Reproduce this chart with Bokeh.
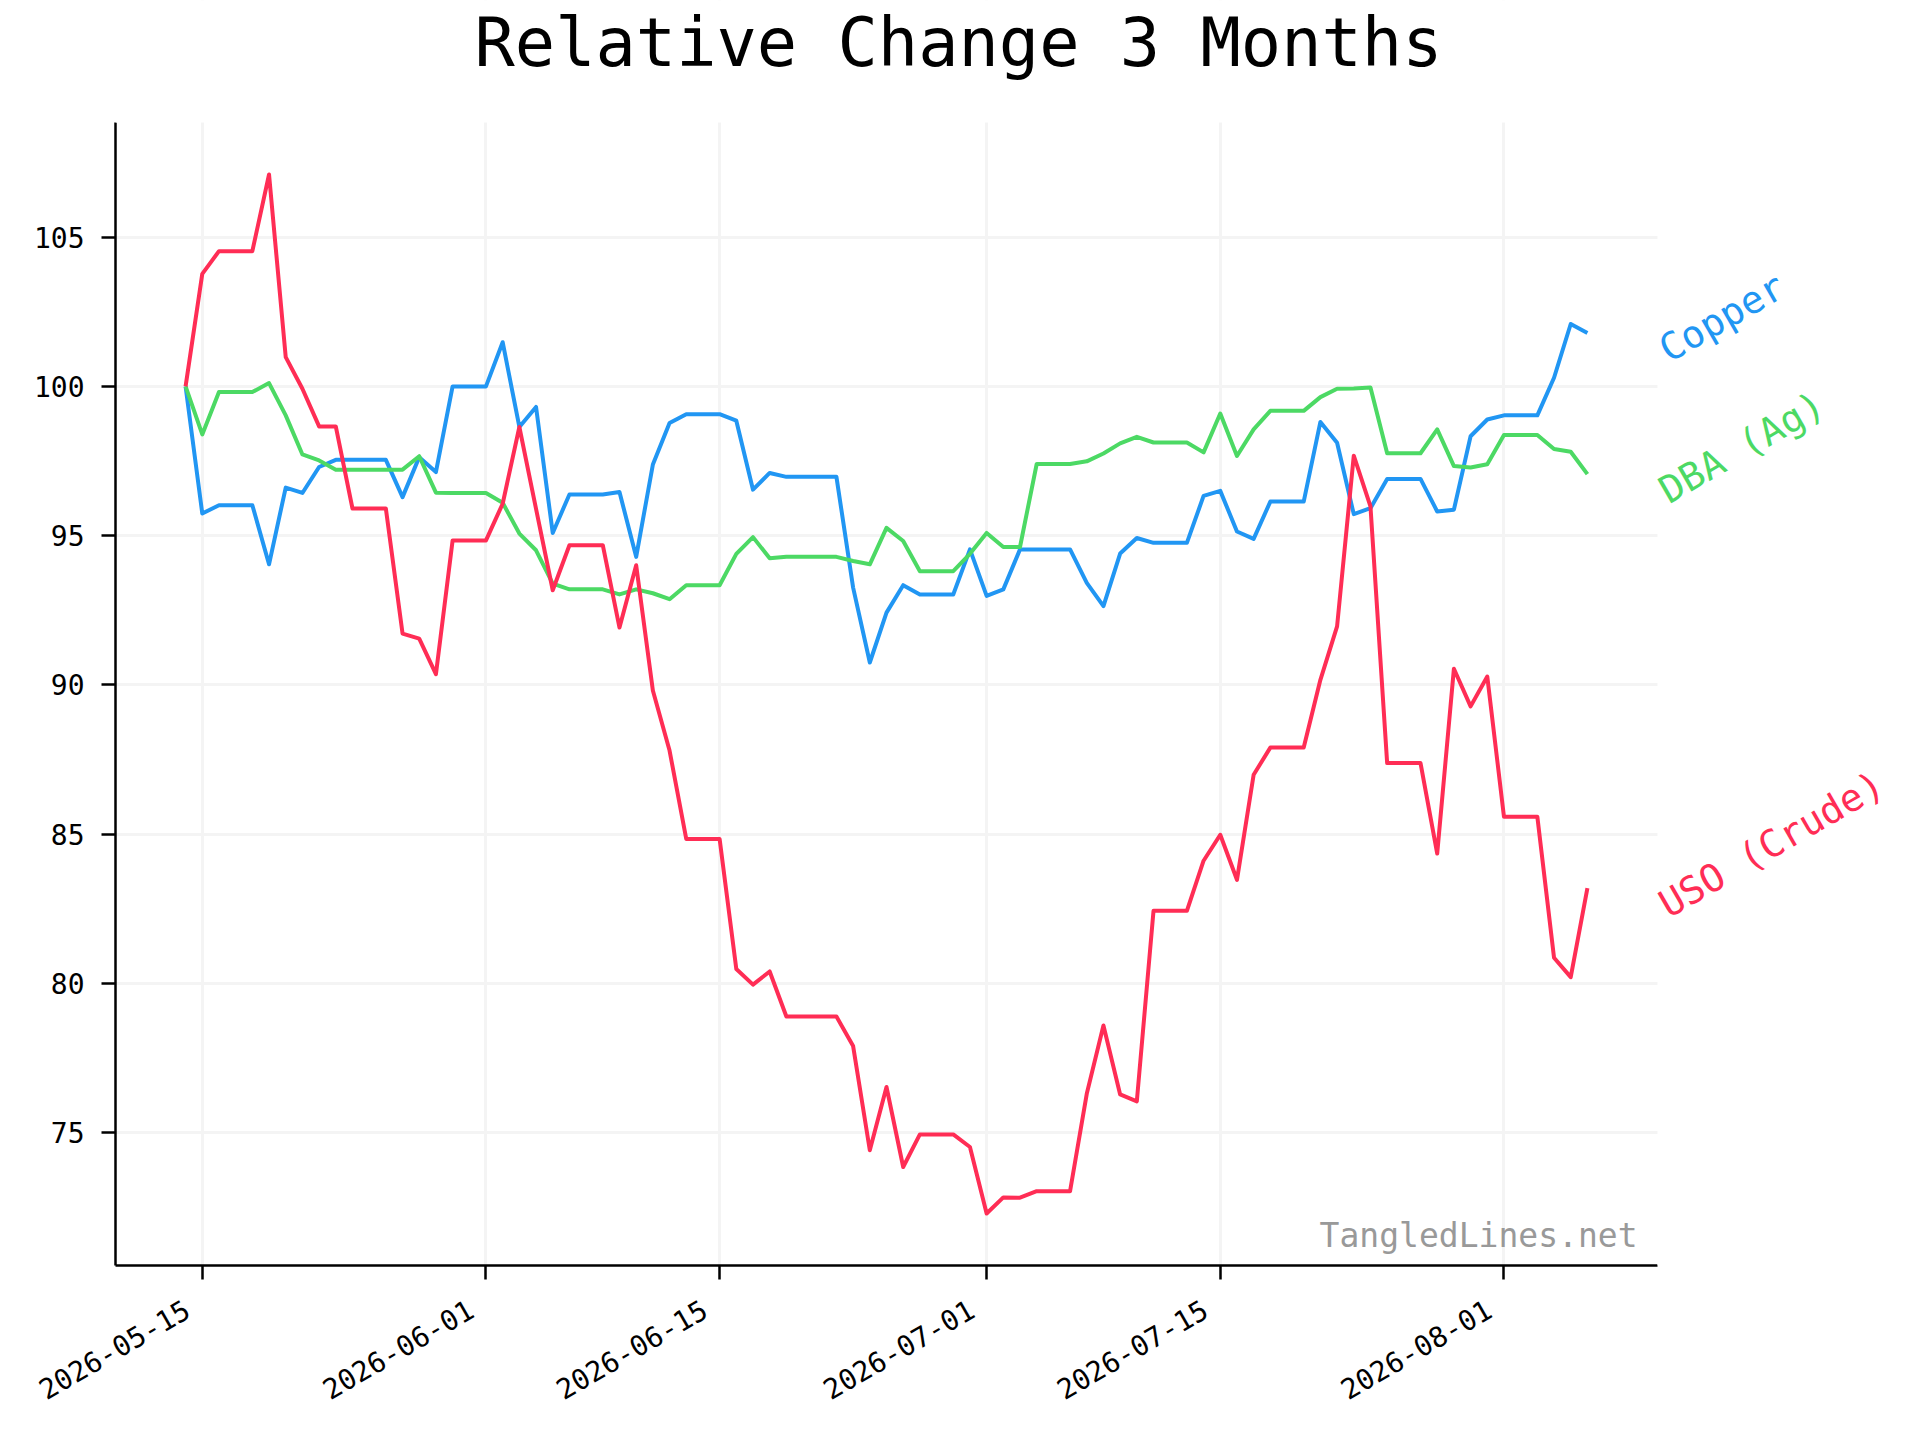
import pandas as pd
from math import pi
from bokeh.plotting import figure
from bokeh.models import (Range1d, DaysTicker, DatetimeTickFormatter, Label,
                          SingleIntervalTicker, BoxAnnotation)
from bokeh.embed import file_html
from bokeh.resources import INLINE

# ---------------- data ----------------
start_date = "2026-05-14"
n_days = 85
dates = pd.date_range(start_date, periods=n_days, freq="D")

copper = [100.00, 95.74, 96.02, 96.02, 96.02, 94.04, 96.61, 96.43, 97.30, 97.54,
          97.54, 97.54, 97.54, 96.29, 97.63, 97.13, 100.00, 100.00, 100.00, 101.48,
          98.64, 99.31, 95.09, 96.38, 96.38, 96.38, 96.46, 94.29, 97.38, 98.77,
          99.07, 99.07, 99.07, 98.85, 96.54, 97.10, 96.97, 96.97, 96.97, 96.97,
          93.26, 90.75, 92.42, 93.34, 93.03, 93.03, 93.03, 94.54, 92.98, 93.20,
          94.54, 94.54, 94.54, 94.54, 93.42, 92.64, 94.40, 94.92, 94.76, 94.76,
          94.76, 96.33, 96.50, 95.14, 94.89, 96.14, 96.14, 96.14, 98.81, 98.11,
          95.72, 95.92, 96.90, 96.90, 96.90, 95.81, 95.87, 98.33, 98.89, 99.03,
          99.03, 99.03, 100.29, 102.09, 101.79]

dba = [100.00, 98.39, 99.81, 99.81, 99.81, 100.11, 99.03, 97.72, 97.52, 97.21,
       97.21, 97.21, 97.21, 97.21, 97.66, 96.44, 96.43, 96.43, 96.43, 96.10,
       95.07, 94.51, 93.39, 93.20, 93.20, 93.20, 93.03, 93.20, 93.07, 92.87,
       93.34, 93.34, 93.34, 94.39, 94.95, 94.24, 94.29, 94.29, 94.29, 94.29,
       94.15, 94.04, 95.26, 94.82, 93.81, 93.81, 93.81, 94.39, 95.09, 94.62,
       94.62, 97.40, 97.40, 97.40, 97.49, 97.75, 98.09, 98.31, 98.12, 98.12,
       98.12, 97.79, 99.09, 97.67, 98.56, 99.18, 99.18, 99.18, 99.64, 99.92,
       99.93, 99.96, 97.76, 97.76, 97.76, 98.56, 97.33, 97.28, 97.39, 98.37,
       98.37, 98.37, 97.90, 97.81, 97.06]

uso = [100.00, 103.77, 104.53, 104.53, 104.53, 107.10, 100.98, 99.92, 98.66, 98.66,
       95.91, 95.91, 95.91, 91.72, 91.55, 90.36, 94.84, 94.84, 94.84, 96.07,
       98.64, 95.90, 93.17, 94.68, 94.68, 94.68, 91.92, 94.01, 89.81, 87.80,
       84.84, 84.84, 84.84, 80.48, 79.96, 80.40, 78.89, 78.89, 78.89, 78.89,
       77.90, 74.41, 76.53, 73.85, 74.94, 74.94, 74.94, 74.52, 72.29, 72.83,
       72.82, 73.04, 73.04, 73.04, 76.30, 78.59, 76.28, 76.05, 82.43, 82.43,
       82.43, 84.11, 84.98, 83.47, 86.99, 87.90, 87.90, 87.90, 90.17, 91.96,
       97.68, 95.98, 87.38, 87.38, 87.38, 84.35, 90.54, 89.28, 90.28, 85.58,
       85.58, 85.58, 80.86, 80.21, 83.19]

series_names = ["Copper", "DBA (Ag)", "USO (Crude)"]
series_values = [copper, dba, uso]
series_colors = ["#2196F3", "#4CD964", "#FF2D55"]

title_text = "Relative Change 3 Months"
watermark_text = "TangledLines.net"
x_tick_days = [1, 15]
y_tick_interval = 5

# ---------------- layout / style ----------------
FONT = "DejaVu Sans Mono"
W, H = 1904, 1424
FL, FR, FT, FB = 115, 1657, 122, 1265      # visible axes box (pixels)

span = dates[-1] - dates[0]
xpad = span * 0.05
all_vals = copper + dba + uso
vmin, vmax = min(all_vals), max(all_vals)
ypad = (vmax - vmin) * 0.05

x0 = (dates[0] - xpad).value / 1e6
x1 = (dates[-1] + xpad).value / 1e6
y0 = vmin - ypad
y1 = vmax + ypad
xpp = (x1 - x0) / (FR - FL)      # ms per pixel
ypp = (y1 - y0) / (FB - FT)      # units per pixel

p = figure(width=W, height=H, x_axis_type="datetime",
           output_backend="svg", toolbar_location=None,
           x_range=Range1d(x0, x1 + (W - FR) * xpp),
           y_range=Range1d(y0, y1 + FT * ypp),
           min_border_left=FL, min_border_right=0,
           min_border_top=0, min_border_bottom=H - FB)

p.outline_line_color = None
p.background_fill_color = "white"
p.border_fill_color = "white"

xt = DaysTicker(days=x_tick_days)
p.xaxis.ticker = xt
p.xgrid.ticker = xt
# trailing space: anchors the rotated label's end just left of the tick
p.xaxis.formatter = DatetimeTickFormatter(days="%Y-%m-%d ", months="%Y-%m-%d ")
yt = SingleIntervalTicker(interval=y_tick_interval)
p.yaxis.ticker = yt
p.ygrid.ticker = yt
p.xaxis.bounds = (x0, x1)
p.yaxis.bounds = (y0, y1)

for ax in (p.xaxis, p.yaxis):
    ax.axis_line_width = 2.5
    ax.axis_line_color = "black"
    ax.major_tick_line_width = 2.5
    ax.major_tick_line_color = "black"
    ax.major_tick_out = 14
    ax.major_tick_in = 0
    ax.minor_tick_out = 0
    ax.minor_tick_in = 0
    ax.major_label_text_font = FONT
    ax.major_label_text_font_size = "28px"
    ax.major_label_text_color = "black"
p.yaxis.major_label_standoff = 17
p.xaxis.major_label_standoff = 20
p.xaxis.major_label_orientation = pi / 6

p.grid.grid_line_color = "#f4f4f4"
p.grid.grid_line_width = 3

for name, vals, col in zip(series_names, series_values, series_colors):
    p.line(dates, vals, line_color=col, line_width=4, line_join="round")

# white masks outside the visible axes box (hide grid overflow)
p.add_layout(BoxAnnotation(left=x1, fill_color="white", fill_alpha=1.0, line_color=None))
p.add_layout(BoxAnnotation(bottom=y1, fill_color="white", fill_alpha=1.0, line_color=None))

# end-of-line series labels
lab_dx_px, lab_dy_px = 5, 19
for name, vals, col in zip(series_names, series_values, series_colors):
    p.add_layout(Label(x=x1 + lab_dx_px * xpp, y=vals[-1] - lab_dy_px * ypp,
                       text=name, angle=pi / 6,
                       text_font=FONT, text_font_size="38px", text_color=col,
                       text_align="left", text_baseline="alphabetic"))

# watermark
p.add_layout(Label(x=x1 - 20 * xpp, y=y0 + 30 * ypp, text=watermark_text,
                   text_font=FONT, text_font_size="33px", text_color="#999999",
                   text_align="right", text_baseline="alphabetic"))

# title (centred on the page)
title_cx, title_base = 958, 42
p.add_layout(Label(x=x0 + (title_cx - FL) * xpp, y=y1 + (FT - title_base) * ypp,
                   text=title_text, text_font=FONT, text_font_size="67px",
                   text_color="black", text_align="center", text_baseline="alphabetic"))

open("out.html", "w").write(file_html(p, INLINE))
